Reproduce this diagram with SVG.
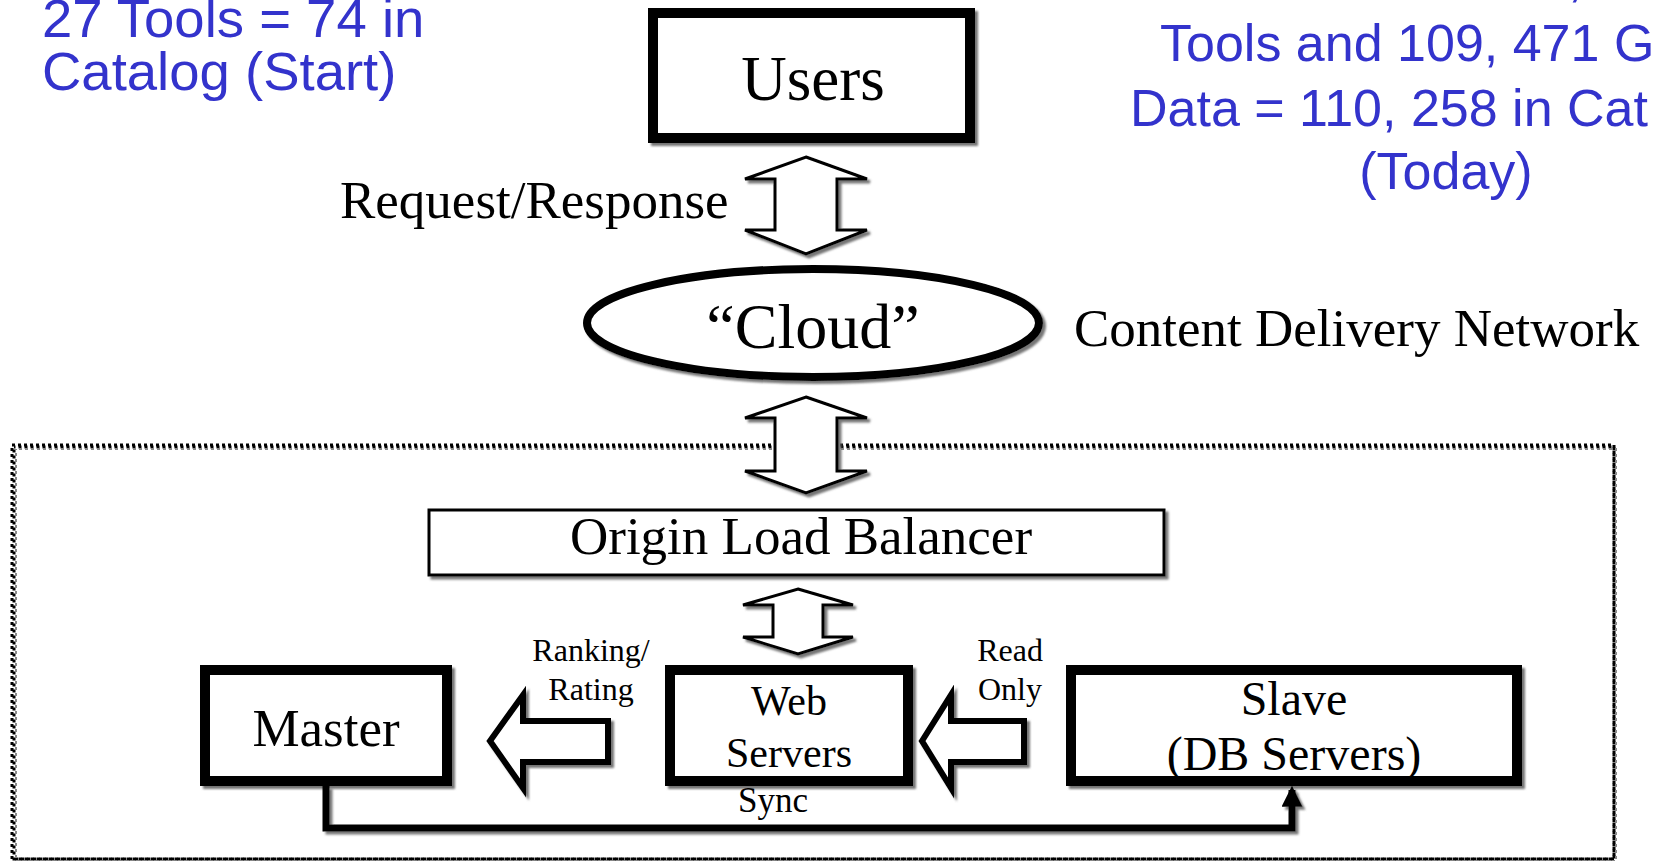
<svg xmlns="http://www.w3.org/2000/svg" width="1654" height="861" viewBox="0 0 1654 861">
<defs>
<filter id="sh" x="-10%" y="-10%" width="120%" height="130%">
<feDropShadow dx="3" dy="3" stdDeviation="1" flood-color="#666" flood-opacity="0.9"/>
</filter>
<marker id="ah" viewBox="0 0 10 10" refX="8" refY="5" markerWidth="3" markerHeight="3" orient="auto">
<path d="M0,0 L10,5 L0,10 Z" fill="#000"/>
</marker>
</defs>
<style>
.serif{font-family:"Liberation Serif","Times New Roman",serif;fill:#000}
.blue{font-family:"Liberation Sans",Arial,sans-serif;fill:#3333CC}
.b52{font-size:52px}
.b55{font-size:54.5px}
.box{fill:#fff;stroke:#000;filter:url(#sh)}
.dbl{fill:#fff;stroke:#000;stroke-width:3;stroke-linejoin:miter;filter:url(#sh)}
.harrow{fill:#fff;stroke:#000;stroke-width:6;stroke-linejoin:miter;filter:url(#sh)}
.dot{fill:none;stroke-dasharray:3 3}
</style>
<rect width="1654" height="861" fill="#fff"/>

<g id="notes">
<text class="blue b55" x="42" y="37">27 Tools = 74 in</text>
<text class="blue b55" x="42" y="90">Catalog (Start)</text>
<text class="blue b52" x="1568" y="-4">,</text>
<text class="blue b52" x="1160" y="61">Tools and 109, 471 G</text>
<text class="blue b52" x="1130" y="126">Data = 110, 258 in Cat</text>
<text class="blue b52" x="1446" y="189" text-anchor="middle">(Today)</text>
</g>

<g id="origin-boundary">
<rect class="dot" x="12" y="445" width="1602" height="414" stroke="#000" stroke-width="3"/>
<rect class="dot" x="14" y="447" width="1600" height="412" stroke="#000" stroke-width="3" stroke-dashoffset="1.5"/>
<rect class="dot" x="16" y="449" width="1600" height="412" stroke="#888" stroke-width="2" stroke-dashoffset="3"/>
</g>

<g id="users">
<rect class="box" x="653" y="13" width="317" height="125" stroke-width="10"/>
<text class="serif" x="813" y="100" font-size="63" text-anchor="middle">Users</text>
</g>

<g id="cloud">
<ellipse class="box" cx="813" cy="323" rx="226" ry="54" stroke-width="8"/>
<text class="serif" x="813" y="348" font-size="64" text-anchor="middle">“Cloud”</text>
</g>

<g id="cdn-label">
<text class="serif" x="1074" y="346" font-size="53">Content Delivery Network</text>
</g>

<g id="load-balancer">
<rect class="box" x="429" y="510" width="735" height="65" stroke-width="3"/>
<text class="serif" x="801" y="554" font-size="53" text-anchor="middle">Origin Load Balancer</text>
</g>

<g id="master">
<rect class="box" x="205" y="670" width="242" height="111" stroke-width="10"/>
<text class="serif" x="326" y="746" font-size="53" text-anchor="middle">Master</text>
</g>

<g id="web-servers">
<rect class="box" x="670" y="670" width="238" height="111" stroke-width="10"/>
<text class="serif" x="789" y="715" font-size="42" text-anchor="middle">Web</text>
<text class="serif" x="789" y="767" font-size="42" text-anchor="middle">Servers</text>
</g>

<g id="slave">
<rect class="box" x="1071" y="670" width="446" height="111" stroke-width="10"/>
<text class="serif" x="1294" y="715" font-size="48" text-anchor="middle">Slave</text>
<text class="serif" x="1294" y="770" font-size="48" text-anchor="middle">(DB Servers)</text>
</g>

<g id="connectors">
<path class="dbl" d="M806,157 L867,179 L837,179 L837,230 L867,230 L806,254 L745,230 L775,230 L775,179 L745,179 Z"/>
<text class="serif" x="340" y="218" font-size="53">Request/Response</text>
<path class="dbl" d="M806,397 L867,418 L837,418 L837,471 L867,471 L806,493 L745,471 L775,471 L775,418 L745,418 Z"/>
<path class="dbl" d="M798,589 L853,605 L823,605 L823,637 L853,637 L798,654 L743,637 L773,637 L773,605 L743,605 Z"/>
<path class="harrow" d="M490,741 L523,695 L523,721 L608,721 L608,762 L523,762 L523,788 Z"/>
<text class="serif" x="591" y="661" font-size="32" text-anchor="middle">Ranking/</text>
<text class="serif" x="591" y="700" font-size="32" text-anchor="middle">Rating</text>
<path class="harrow" d="M922,741 L951,695 L951,721 L1024,721 L1024,762 L951,762 L951,788 Z"/>
<text class="serif" x="1010" y="661" font-size="32" text-anchor="middle">Read</text>
<text class="serif" x="1010" y="700" font-size="32" text-anchor="middle">Only</text>
<path d="M326,786 L326,828 L1292,828 L1292,790" fill="none" stroke="#000" stroke-width="7" filter="url(#sh)" marker-end="url(#ah)"/>
<text class="serif" x="773" y="812" font-size="35" text-anchor="middle">Sync</text>
</g>
</svg>
